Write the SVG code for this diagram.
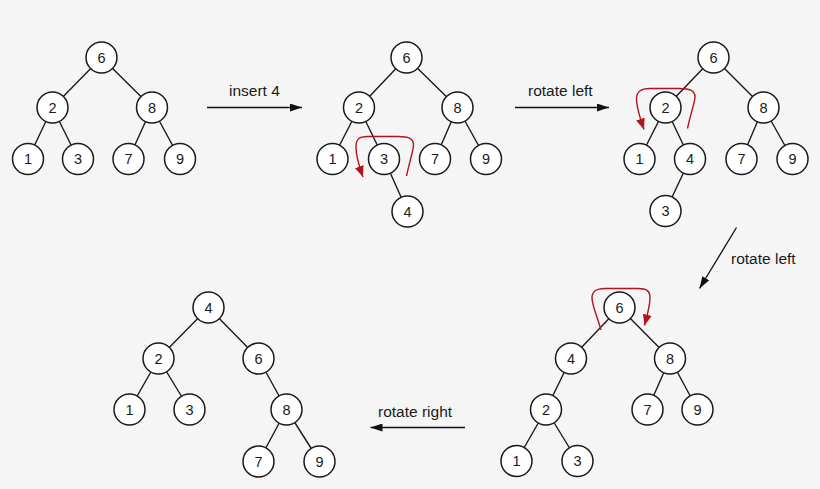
<svg xmlns="http://www.w3.org/2000/svg" width="820" height="489" viewBox="0 0 820 489">
<defs>
<style>
.bg{fill:#f5f5f5}
.n circle{fill:#fff;stroke:#1a1a1a;stroke-width:1.5}
.n text{font-family:"Liberation Sans",Arial,sans-serif;font-size:14.5px;fill:#1a1a1a;text-anchor:middle}
.e line{stroke:#1a1a1a;stroke-width:1.4}
.arr{stroke:#111;stroke-width:1.3;fill:none;marker-end:url(#ah)}
.lbl{font-family:"Liberation Sans",Arial,sans-serif;font-size:15.5px;fill:#1a1a1a}
.rot{stroke:#b0141c;stroke-width:1.4;fill:none;marker-end:url(#rh)}
</style>
<marker id="ah" viewBox="0 0 12 8" refX="12" refY="4" markerWidth="12" markerHeight="8" markerUnits="userSpaceOnUse" orient="auto">
<path d="M0,0 L12,4 L0,8 z" fill="#111"/>
</marker>
<marker id="rh" viewBox="0 0 11 9" refX="11" refY="4.5" markerWidth="11" markerHeight="9" markerUnits="userSpaceOnUse" orient="auto">
<path d="M0,0 L11,4.5 L0,9 z" fill="#b0141c"/>
</marker>
</defs>
<rect class="bg" x="0" y="0" width="820" height="489"/>

<g id="connectors">
<g class="e">
<line x1="101.5" y1="57.5" x2="52.5" y2="107.5"/>
<line x1="101.5" y1="57.5" x2="152" y2="107.5"/>
<line x1="52.5" y1="107.5" x2="28" y2="159"/>
<line x1="52.5" y1="107.5" x2="78" y2="159"/>
<line x1="152" y1="107.5" x2="128.5" y2="159"/>
<line x1="152" y1="107.5" x2="180" y2="159"/>
<line x1="406.5" y1="57.5" x2="359" y2="107.5"/>
<line x1="406.5" y1="57.5" x2="457.5" y2="107.5"/>
<line x1="359" y1="107.5" x2="332.5" y2="159"/>
<line x1="359" y1="107.5" x2="384" y2="159"/>
<line x1="457.5" y1="107.5" x2="435" y2="159"/>
<line x1="457.5" y1="107.5" x2="486" y2="159"/>
<line x1="384" y1="159" x2="407.5" y2="211.5"/>
<line x1="713.5" y1="57.5" x2="665.5" y2="107.5"/>
<line x1="713.5" y1="57.5" x2="763.5" y2="107.5"/>
<line x1="665.5" y1="107.5" x2="639.5" y2="159"/>
<line x1="665.5" y1="107.5" x2="690" y2="159"/>
<line x1="763.5" y1="107.5" x2="741.5" y2="159"/>
<line x1="763.5" y1="107.5" x2="792.5" y2="159"/>
<line x1="690" y1="159" x2="665.5" y2="211"/>
<line x1="619.5" y1="307.5" x2="571" y2="358.5"/>
<line x1="619.5" y1="307.5" x2="670" y2="358.5"/>
<line x1="571" y1="358.5" x2="546" y2="409.5"/>
<line x1="670" y1="358.5" x2="647.5" y2="409.5"/>
<line x1="670" y1="358.5" x2="697.5" y2="409.5"/>
<line x1="546" y1="409.5" x2="516.5" y2="461"/>
<line x1="546" y1="409.5" x2="577.5" y2="461"/>
<line x1="208.5" y1="307.5" x2="158.5" y2="358.5"/>
<line x1="208.5" y1="307.5" x2="258.5" y2="358.5"/>
<line x1="158.5" y1="358.5" x2="129.5" y2="409.5"/>
<line x1="158.5" y1="358.5" x2="189.5" y2="409.5"/>
<line x1="258.5" y1="358.5" x2="286.5" y2="409.5"/>
<line x1="286.5" y1="409.5" x2="258.5" y2="461.5"/>
<line x1="286.5" y1="409.5" x2="319.5" y2="461.5"/>
</g>
<path class="arr" d="M207,107.5 L302,107.5"/>
<path class="arr" d="M515,107.5 L609,107.5"/>
<path class="arr" d="M736.5,227.5 L699.5,288.5"/>
<path class="arr" d="M465,427.5 L370.5,427.5"/>
<text class="lbl" x="229" y="96">insert 4</text>
<text class="lbl" x="528" y="96">rotate left</text>
<text class="lbl" x="731" y="263.5">rotate left</text>
<text class="lbl" x="378" y="417">rotate right</text>
</g>

<g id="tree1">
<g id="t1n6" class="n"><circle cx="101.5" cy="57.5" r="15.5"/><text x="101.5" y="62.5">6</text></g>
<g id="t1n2" class="n"><circle cx="52.5" cy="107.5" r="15.5"/><text x="52.5" y="112.5">2</text></g>
<g id="t1n8" class="n"><circle cx="152" cy="107.5" r="15.5"/><text x="152" y="112.5">8</text></g>
<g id="t1n1" class="n"><circle cx="28" cy="159" r="15.5"/><text x="28" y="164">1</text></g>
<g id="t1n3" class="n"><circle cx="78" cy="159" r="15.5"/><text x="78" y="164">3</text></g>
<g id="t1n7" class="n"><circle cx="128.5" cy="159" r="15.5"/><text x="128.5" y="164">7</text></g>
<g id="t1n9" class="n"><circle cx="180" cy="159" r="15.5"/><text x="180" y="164">9</text></g>
</g>

<g id="tree2">
<g id="t2n6" class="n"><circle cx="406.5" cy="57.5" r="15.5"/><text x="406.5" y="62.5">6</text></g>
<g id="t2n2" class="n"><circle cx="359" cy="107.5" r="15.5"/><text x="359" y="112.5">2</text></g>
<g id="t2n8" class="n"><circle cx="457.5" cy="107.5" r="15.5"/><text x="457.5" y="112.5">8</text></g>
<g id="t2n1" class="n"><circle cx="332.5" cy="159" r="15.5"/><text x="332.5" y="164">1</text></g>
<g id="t2n3" class="n"><circle cx="384" cy="159" r="15.5"/><text x="384" y="164">3</text></g>
<g id="t2n7" class="n"><circle cx="435" cy="159" r="15.5"/><text x="435" y="164">7</text></g>
<g id="t2n9" class="n"><circle cx="486" cy="159" r="15.5"/><text x="486" y="164">9</text></g>
<g id="t2n4" class="n"><circle cx="407.5" cy="211.5" r="15.5"/><text x="407.5" y="216.5">4</text></g>
<path id="t2rot" class="rot" d="M406.5,176 C410,160 413.5,150 413.5,145 C413.5,138 408,136.5 398,136.5 L368,136.5 C358,136.5 356,140 356,147 C356,155 359,166 363,177"/>
</g>

<g id="tree3">
<g id="t3n6" class="n"><circle cx="713.5" cy="57.5" r="15.5"/><text x="713.5" y="62.5">6</text></g>
<g id="t3n2" class="n"><circle cx="665.5" cy="107.5" r="15.5"/><text x="665.5" y="112.5">2</text></g>
<g id="t3n8" class="n"><circle cx="763.5" cy="107.5" r="15.5"/><text x="763.5" y="112.5">8</text></g>
<g id="t3n1" class="n"><circle cx="639.5" cy="159" r="15.5"/><text x="639.5" y="164">1</text></g>
<g id="t3n4" class="n"><circle cx="690" cy="159" r="15.5"/><text x="690" y="164">4</text></g>
<g id="t3n7" class="n"><circle cx="741.5" cy="159" r="15.5"/><text x="741.5" y="164">7</text></g>
<g id="t3n9" class="n"><circle cx="792.5" cy="159" r="15.5"/><text x="792.5" y="164">9</text></g>
<g id="t3n3" class="n"><circle cx="665.5" cy="211" r="15.5"/><text x="665.5" y="216">3</text></g>
<path id="t3rot" class="rot" d="M687.5,128.5 C691,112 695,102 695,97 C695,90 689,88.5 679,88.5 L650,88.5 C640,88.5 636.5,92 636.5,99 C636.5,107 640,118 644,129.5"/>
</g>

<g id="tree4">
<g id="t4n6" class="n"><circle cx="619.5" cy="307.5" r="15.5"/><text x="619.5" y="312.5">6</text></g>
<g id="t4n4" class="n"><circle cx="571" cy="358.5" r="15.5"/><text x="571" y="363.5">4</text></g>
<g id="t4n8" class="n"><circle cx="670" cy="358.5" r="15.5"/><text x="670" y="363.5">8</text></g>
<g id="t4n2" class="n"><circle cx="546" cy="409.5" r="15.5"/><text x="546" y="414.5">2</text></g>
<g id="t4n7" class="n"><circle cx="647.5" cy="409.5" r="15.5"/><text x="647.5" y="414.5">7</text></g>
<g id="t4n9" class="n"><circle cx="697.5" cy="409.5" r="15.5"/><text x="697.5" y="414.5">9</text></g>
<g id="t4n1" class="n"><circle cx="516.5" cy="461" r="15.5"/><text x="516.5" y="466">1</text></g>
<g id="t4n3" class="n"><circle cx="577.5" cy="461" r="15.5"/><text x="577.5" y="466">3</text></g>
<path id="t4rot" class="rot" d="M601,330 C597,316 592,305 592,298 C592,291 596,288.5 605,288.5 L638,288.5 C647,288.5 650,291 650,298 C650,306 647,316 644.5,325.5"/>
</g>

<g id="tree5">
<g id="t5n4" class="n"><circle cx="208.5" cy="307.5" r="15.5"/><text x="208.5" y="312.5">4</text></g>
<g id="t5n2" class="n"><circle cx="158.5" cy="358.5" r="15.5"/><text x="158.5" y="363.5">2</text></g>
<g id="t5n6" class="n"><circle cx="258.5" cy="358.5" r="15.5"/><text x="258.5" y="363.5">6</text></g>
<g id="t5n1" class="n"><circle cx="129.5" cy="409.5" r="15.5"/><text x="129.5" y="414.5">1</text></g>
<g id="t5n3" class="n"><circle cx="189.5" cy="409.5" r="15.5"/><text x="189.5" y="414.5">3</text></g>
<g id="t5n8" class="n"><circle cx="286.5" cy="409.5" r="15.5"/><text x="286.5" y="414.5">8</text></g>
<g id="t5n7" class="n"><circle cx="258.5" cy="461.5" r="15.5"/><text x="258.5" y="466.5">7</text></g>
<g id="t5n9" class="n"><circle cx="319.5" cy="461.5" r="15.5"/><text x="319.5" y="466.5">9</text></g>
</g>
</svg>
